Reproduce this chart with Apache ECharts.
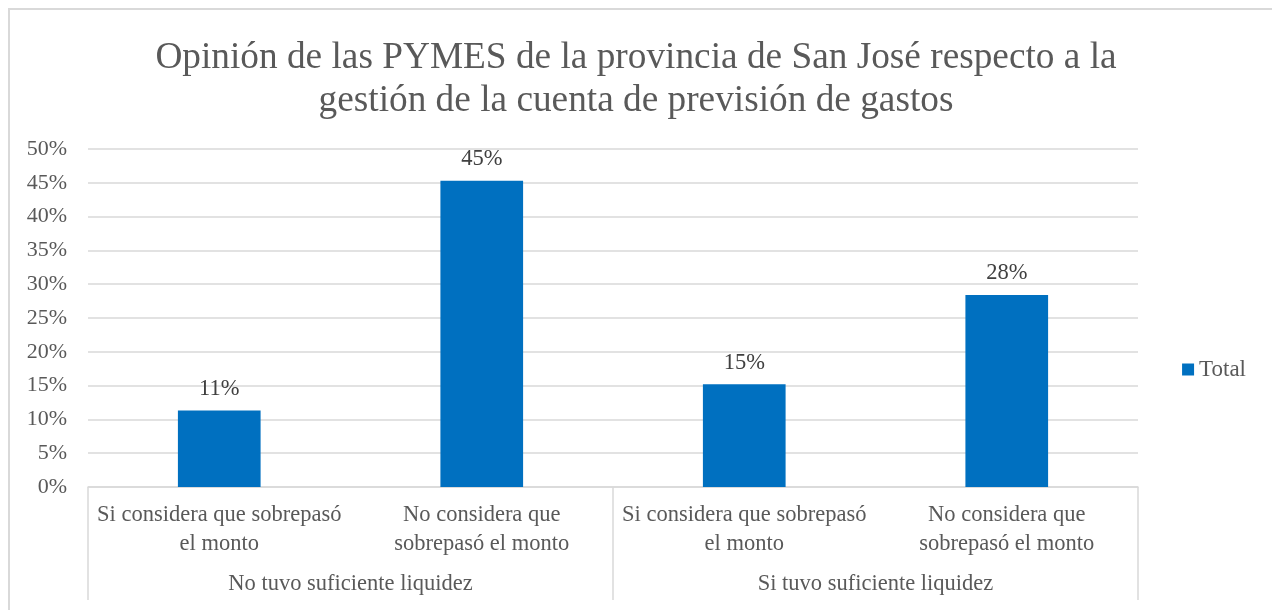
<!DOCTYPE html>
<html>
<head>
<meta charset="utf-8">
<script src="https://cdn.jsdelivr.net/npm/echarts@6/dist/echarts.min.js"></script>
<style>
  html, body { margin: 0; padding: 0; background: #fff; }
  #chart { width: 1272px; height: 610px; }
</style>
</head>
<body>
<div id="chart"></div>
<script>
const categories = [
  "Si considera que sobrepasó\nel monto",
  "No considera que\nsobrepasó el monto",
  "Si considera que sobrepasó\nel monto",
  "No considera que\nsobrepasó el monto",
];
const groups = ["No tuvo suficiente liquidez", "Si tuvo suficiente liquidez"];
const values = [0.113, 0.453, 0.152, 0.284];
const yTicks = { min: 0, max: 0.5, interval: 0.05 };

const serif = "'Liberation Serif', 'Times New Roman', serif";
const textGray = "#595959";
const lineGray = "#d9d9d9";

const chart = echarts.init(document.getElementById("chart"));

const option = {
  backgroundColor: "#ffffff",
  animation: false,
  title: {
    text: "Opinión de las PYMES de la provincia de San José respecto a la\ngestión de la cuenta de previsión de gastos",
    left: "center",
    top: 32,
    textStyle: {
      fontFamily: serif,
      fontSize: 37.3,
      fontWeight: "normal",
      color: textGray,
      lineHeight: 43,
    },
  },
  legend: {
    data: ["Total"],
    right: 21,
    top: 353,
    icon: "rect",
    itemWidth: 12,
    itemHeight: 12,
    itemGap: 6,
    textStyle: { fontFamily: serif, fontSize: 23, color: textGray },
  },
  grid: { left: 88, right: 134, top: 149, bottom: 123 },
  xAxis: [
    {
      type: "category",
      data: categories,
      axisLine: { lineStyle: { color: lineGray, width: 1.5 } },
      axisTick: { show: false },
      axisLabel: {
        interval: 0,
        margin: 14,
        fontFamily: serif,
        fontSize: 22.5,
        lineHeight: 29,
        color: textGray,
      },
    },
    {
      type: "category",
      data: groups,
      position: "bottom",
      axisLine: { show: false },
      axisTick: {
        show: true,
        interval: 0,
        length: 113,
        lineStyle: { color: lineGray, width: 1.5 },
      },
      axisLabel: {
        interval: 0,
        margin: 86,
        fontFamily: serif,
        fontSize: 22.5,
        color: textGray,
      },
    },
  ],
  yAxis: {
    type: "value",
    min: yTicks.min,
    max: yTicks.max,
    interval: yTicks.interval,
    axisLine: { show: false },
    axisTick: { show: false },
    splitLine: { lineStyle: { color: lineGray, width: 1.5 } },
    axisLabel: {
      margin: 21,
      fontFamily: serif,
      fontSize: 22,
      color: textGray,
      formatter: (v) => Math.round(v * 100) + "%",
    },
  },
  series: [
    {
      name: "Total",
      type: "bar",
      xAxisIndex: 0,
      data: values,
      barWidth: "31.5%",
      itemStyle: { color: "#0070c0" },
      label: {
        show: true,
        position: "top",
        distance: 10,
        fontFamily: serif,
        fontSize: 22.5,
        color: "#404040",
        formatter: (p) => Math.round(p.value * 100) + "%",
      },
    },
  ],
  graphic: [
    {
      type: "rect",
      shape: { x: 9, y: 9, width: 1400, height: 800 },
      style: { fill: "none", stroke: lineGray, lineWidth: 2 },
      silent: true,
    },
  ],
};

chart.setOption(option);
</script>
</body>
</html>
